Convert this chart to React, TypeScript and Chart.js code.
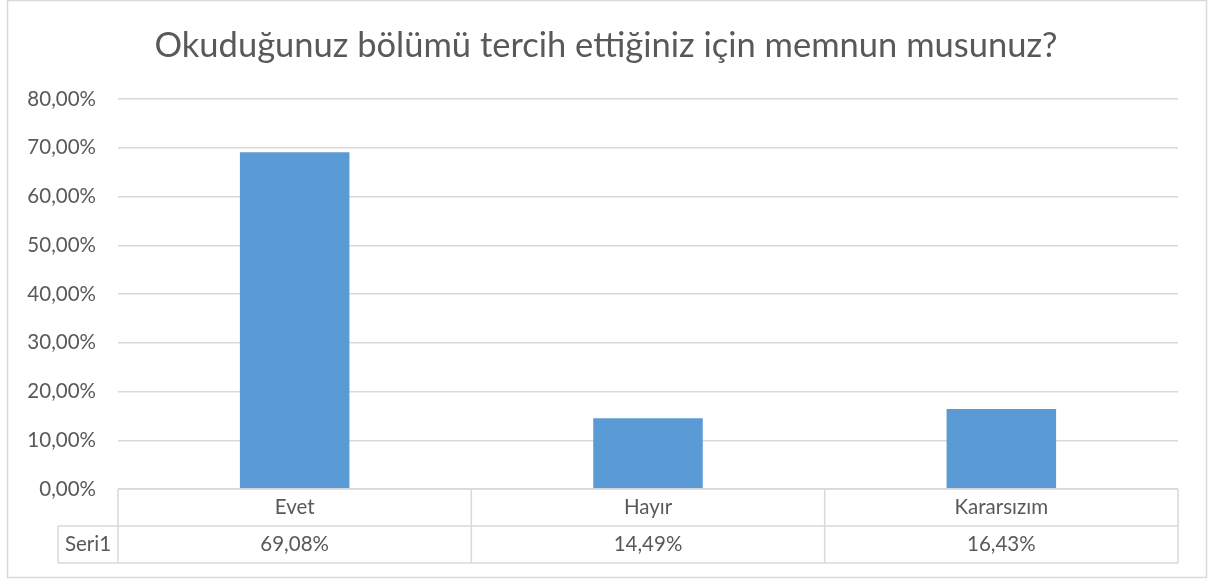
import React, { useEffect, useRef } from "react";
import { Chart, registerables } from "chart.js";

Chart.register(...registerables);

const TITLE = "Okuduğunuz bölümü tercih ettiğiniz için memnun musunuz?";
const categories = ["Evet", "Hayır", "Kararsızım"];
const seriesName = "Seri1";
const values = [69.08, 14.49, 16.43];
const valueLabels = ["69,08%", "14,49%", "16,43%"];
const yTicks = [0, 10, 20, 30, 40, 50, 60, 70, 80];

const FONT = "Lato, 'Open Sans', sans-serif";
const TEXT = "#595959";
const LINE = "#D9D9D9";

const fmt = (v: number) => v.toFixed(2).replace(".", ",") + "%";

const decorPlugin = {
  id: "decor",
  beforeDraw(chart: any) {
    const ctx = chart.ctx;
    ctx.save();
    ctx.fillStyle = "#ffffff";
    ctx.fillRect(0, 0, chart.width, chart.height);
    ctx.strokeStyle = LINE;
    ctx.lineWidth = 1.5;
    ctx.strokeRect(7.5, 0.5, chart.width - 9, chart.height - 2);
    ctx.restore();
  },
  afterDraw(chart: any) {
    const ctx = chart.ctx;
    const area = chart.chartArea;
    const x = chart.scales.x;
    ctx.save();
    // title
    ctx.fillStyle = TEXT;
    ctx.font = `34.5px ${FONT}`;
    ctx.textAlign = "center";
    ctx.textBaseline = "middle";
    ctx.fillText(TITLE, 606, 46);

    // data table
    const rowH = 37;
    const top = area.bottom;
    const mid = top + rowH;
    const bot = mid + rowH;
    const headLeft = 58;
    ctx.strokeStyle = LINE;
    ctx.lineWidth = 1.5;
    ctx.beginPath();
    ctx.moveTo(area.left, top);
    ctx.lineTo(area.right, top);
    ctx.moveTo(headLeft, mid);
    ctx.lineTo(area.right, mid);
    ctx.moveTo(headLeft, bot);
    ctx.lineTo(area.right, bot);
    ctx.moveTo(headLeft, mid);
    ctx.lineTo(headLeft, bot);
    const n = categories.length;
    const w = (area.right - area.left) / n;
    for (let i = 0; i <= n; i++) {
      const xx = area.left + i * w;
      ctx.moveTo(xx, top);
      ctx.lineTo(xx, bot);
    }
    ctx.stroke();

    ctx.fillStyle = TEXT;
    ctx.font = `20.5px ${FONT}`;
    ctx.textAlign = "center";
    ctx.textBaseline = "middle";
    categories.forEach((c, i) => {
      const cx = x.getPixelForValue(i);
      ctx.fillText(c, cx, top + rowH / 2);
      ctx.fillText(valueLabels[i], cx, mid + rowH / 2);
    });
    ctx.fillText(seriesName, (headLeft + area.left) / 2, mid + rowH / 2);
    ctx.restore();
  },
};

export default function App() {
  const ref = useRef<HTMLCanvasElement | null>(null);
  useEffect(() => {
    if (!ref.current) return;
    const chart = new Chart(ref.current, {
      type: "bar",
      data: {
        labels: categories,
        datasets: [
          {
            label: seriesName,
            data: values,
            backgroundColor: "#5B9BD5",
            barPercentage: 0.31,
            categoryPercentage: 1,
          },
        ],
      },
      options: {
        animation: false,
        responsive: false,
        layout: { padding: { left: 7, top: 99, right: 30, bottom: 90 } },
        plugins: {
          legend: { display: false },
          title: { display: false },
          tooltip: { enabled: false },
        },
        scales: {
          x: { display: false },
          y: {
            min: 0,
            max: 80,
            afterBuildTicks(scale: any) {
              scale.ticks = yTicks.map((v) => ({ value: v }));
            },
            afterFit(scale: any) {
              scale.width = 111;
            },
            border: { display: false },
            grid: { color: LINE, lineWidth: 1.5, drawTicks: false },
            ticks: {
              padding: 22,
              color: TEXT,
              font: { family: FONT, size: 20.5 },
              callback: (v: any) => fmt(Number(v)),
            },
          },
        },
      },
      plugins: [decorPlugin],
    });
    return () => chart.destroy();
  }, []);
  return (
    <div style={{ position: "fixed", left: 0, top: 0, width: 1208, height: 579 }}>
      <canvas ref={ref} width={1208} height={579} style={{ display: "block" }} />
    </div>
  );
}
